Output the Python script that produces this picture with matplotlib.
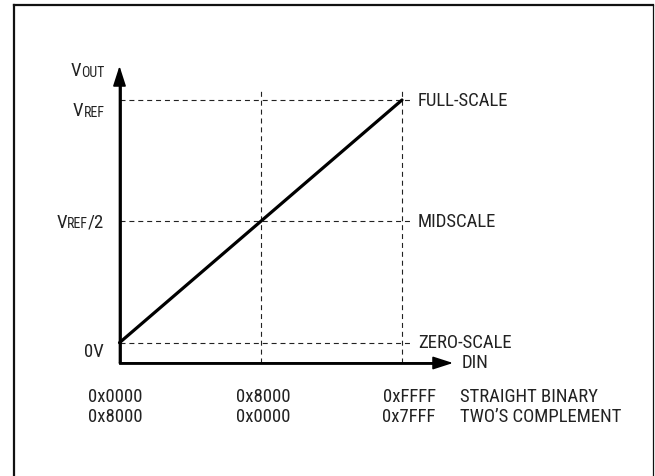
import matplotlib
matplotlib.use("Agg")
import matplotlib.pyplot as plt
from matplotlib.lines import Line2D
from matplotlib import font_manager as fm

# ---- data ----
codes = [0x0000, 0x8000, 0xFFFF]
straight_binary = ["0x0000", "0x8000", "0xFFFF"]
twos_complement = ["0x8000", "0x0000", "0x7FFF"]
levels = [0.0, 0.5, 1.0]
level_names = ["ZERO-SCALE", "MIDSCALE", "FULL-SCALE"]
transfer_x = [0x0000, 0xFFFF]
transfer_y = [0.0, 1.0]
row_names = ["STRAIGHT BINARY", "TWO\u2019S COMPLEMENT"]

available = set(f.name for f in fm.fontManager.ttflist)
candidates = ['Liberation Sans Narrow', 'Roboto Condensed', 'Archivo Narrow', 'PT Sans Narrow']
fams = [c for c in candidates if c in available][:1] + ['DejaVu Sans']
plt.rcParams['font.family'] = fams
FS = 13.5
FS_SUB = 10
INK = "#222222"

W, H, DPI = 655, 476, 100
fig = plt.figure(figsize=(W / DPI, H / DPI), dpi=DPI)
ax = fig.add_axes([0, 0, 1, 1])
ax.axis('off')

# layout anchors (pixels)
X0_PX, X1_PX = 119.5, 402.0     # code 0 and 0xFFFF
Y0_PX, Y1_PX = 342.7, 100.0     # 0 V and VREF
sx = (X1_PX - X0_PX) / 0xFFFF
sy = (Y0_PX - Y1_PX) / 1.0
def xd(px):
    return (px - X0_PX) / sx
def yd(py):
    return (Y0_PX - py) / sy
ax.set_xlim(xd(0), xd(W))
ax.set_ylim(yd(H), yd(0))

# frame
def fline(xs, ys, lw):
    fig.add_artist(Line2D([x / W for x in xs], [1 - y / H for y in ys],
                          transform=fig.transFigure, color="#111111", lw=lw,
                          solid_capstyle='projecting'))
fline([13.5, 13.5], [H + 5, 5], 1.6)
fline([13.5, 653], [5, 5], 1.6)
fline([653, 653], [5, H + 5], 0.9)

axis_y = yd(363)
ytip = yd(66)
xtip = xd(453)

# dashed guides
dash = dict(color=INK, lw=0.8, dashes=(4.5, 3.5))
for lv in levels:
    ax.plot([0, 0xFFFF + 8 / sx], [lv, lv], **dash)
for c in codes[1:]:
    ax.plot([c, c], [axis_y, 1 + 11 / sy], **dash)

# transfer line
ax.plot(transfer_x, transfer_y, color="black", lw=2.3, solid_capstyle='round')

# axes
ax.plot([0, 0, xtip - 15 / sx], [ytip - 15 / sy, axis_y, axis_y], color="black", lw=2.0,
        solid_joinstyle='miter', solid_capstyle='butt')
arrow = dict(arrowstyle='-|>,head_length=0.62,head_width=0.2', color="black", lw=1.2,
             shrinkA=0, shrinkB=0, mutation_scale=20)
ax.annotate('', xy=(0, ytip), xytext=(0, axis_y), arrowprops=arrow)
ax.annotate('', xy=(xtip, axis_y), xytext=(0, axis_y), arrowprops=arrow)

# y labels with subscripts
def vlabel(y, sub, tail=None):
    if tail:
        t = ax.annotate(tail, xy=(xd(104.4), y), ha='right', va='baseline', fontsize=FS, color=INK)
        s = ax.annotate(sub, xy=(0, 0), xycoords=t, ha='right', va='bottom', fontsize=FS_SUB, color=INK)
    else:
        s = ax.annotate(sub, xy=(xd(104.4), y), ha='right', va='baseline', fontsize=FS_SUB, color=INK)
    ax.annotate('V', xy=(0, 0), xycoords=s, ha='right', va='bottom', fontsize=FS, color=INK)

vlabel(yd(77), 'OUT')
vlabel(yd(117), 'REF')
vlabel(yd(227.5), 'REF', '/2')
ax.text(xd(104), yd(357), '0V', ha='right', va='baseline', fontsize=FS, color=INK)

# right level names
for lv, name in zip(levels, level_names):
    ax.annotate(name, xy=(0xFFFF, lv), xytext=(16, -5.5), textcoords='offset pixels',
                ha='left', va='baseline', fontsize=FS, color=INK)
ax.annotate('DIN', xy=(xtip, axis_y), xytext=(9, -5.5), textcoords='offset pixels',
            ha='left', va='baseline', fontsize=FS, color=INK)

# code labels
offs = [-4, 2.5, 7]
for c, a, b, o in zip(codes, straight_binary, twos_complement, offs):
    ax.annotate(a, xy=(c, yd(401.7)), xytext=(o, 0), textcoords='offset pixels',
                ha='center', va='baseline', fontsize=FS, color=INK)
    ax.annotate(b, xy=(c, yd(421.7)), xytext=(o, 0), textcoords='offset pixels',
                ha='center', va='baseline', fontsize=FS, color=INK)
ax.text(xd(460), yd(401.7), row_names[0], ha='left', va='baseline', fontsize=FS, color=INK)
ax.text(xd(460), yd(421.7), row_names[1], ha='left', va='baseline', fontsize=FS, color=INK)

fig.savefig("out.png", dpi=DPI)
